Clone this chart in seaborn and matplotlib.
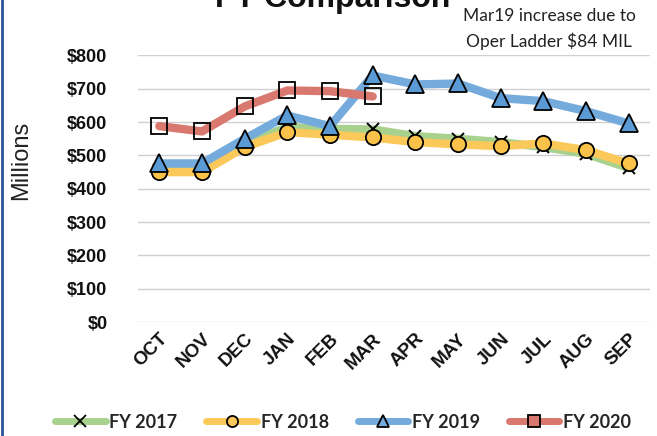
import matplotlib
matplotlib.use("Agg")
import matplotlib.pyplot as plt
import matplotlib.transforms as mtransforms
import seaborn as sns
import pandas as pd
from matplotlib.lines import Line2D

months = ["OCT", "NOV", "DEC", "JAN", "FEB", "MAR", "APR", "MAY", "JUN", "JUL", "AUG", "SEP"]
fy2017 = [455, 452, 535, 585, 580, 578, 558, 550, 540, 525, 505, 462]
fy2018 = [450, 450, 525, 570, 562, 554, 540, 533, 528, 536, 516, 476]
fy2019 = [476, 476, 550, 620, 588, 740, 713, 716, 672, 663, 633, 596]
fy2020 = [588, 572, 647, 695, 693, 677]
yticks = [0, 100, 200, 300, 400, 500, 600, 700, 800]
ytick_labels = ["$0", "$100", "$200", "$300", "$400", "$500", "$600", "$700", "$800"]
series_names = ["FY 2017", "FY 2018", "FY 2019", "FY 2020"]

sns.set_theme(style="white")
plt.rcParams['font.family'] = ['Liberation Sans', 'DejaVu Sans']

fig = plt.figure(figsize=(6.57, 4.36), dpi=100)
ax = fig.add_axes([138/657, 1-322/436, (650-138)/657, (322-55.5)/436])

styles = [
    dict(color="#a9d18e", marker="x", mec="black", mfc="black", ms=9, mew=1.4),
    dict(color="#fbc85a", marker="o", mec="black", mfc="#fbc24a", ms=11, mew=1.3),
    dict(color="#74aadc", marker="^", mec="black", mfc="#5b9bd5", ms=12.5, mew=1.3),
    dict(color="#d9786e", marker="s", mec="black", mfc="none", ms=11, mew=1.3),
]
data = [fy2017, fy2018, fy2019, fy2020]
for name, vals, st in zip(series_names, data, styles):
    df = pd.DataFrame({"month": months[:len(vals)], "value": vals})
    sns.lineplot(data=df, x="month", y="value", ax=ax, sort=False, lw=6,
                 legend=False, **st)

ax.set_xlim(-0.5, 11.5)
ax.set_ylim(0, 800)
ax.set_yticks(yticks)
ax.set_yticklabels(ytick_labels, fontsize=13, fontweight="bold", color="#111111")
ax.set_xticks(range(len(months)))
ax.set_xticklabels(months, rotation=45, ha="right", rotation_mode="anchor",
                   fontsize=13.5, fontweight="bold", color="#111111")
offset = mtransforms.ScaledTranslation(-8/100, -2/100, fig.dpi_scale_trans)
for lbl in ax.get_xticklabels():
    lbl.set_transform(lbl.get_transform() + offset)
ax.tick_params(axis="both", length=0)
ax.tick_params(axis="y", pad=22)
ax.tick_params(axis="x", pad=6)
ax.set_xlabel("")
ax.set_ylabel("")
for s in ax.spines.values():
    s.set_visible(False)
ax.yaxis.grid(True, color="#d0d0d0", lw=1)
ax.set_axisbelow(True)

fig.text(21/657, 1-160/436, "Millions", rotation=90, ha="center", va="center",
         fontsize=17, color="#222222")

fig.text(333/657, 1-7/436, "FY Comparison", ha="center", va="baseline",
         fontsize=23, fontweight="bold", color="#111111")

fig.text(549/657, 1-29/436, "Mar19 increase due to\nOper Ladder $84 MIL", ha="center",
         va="center", fontsize=12.5, family=["Lato", "DejaVu Sans"], color="#222222",
         linespacing=1.55)

handles = [Line2D([], [], lw=5, color=st["color"], marker=st["marker"], mec="black",
                  mfc=(st["color"] if st["marker"] != "x" else "black"), ms=8, mew=1.3)
           for st in styles]
fig.legend(handles, series_names, loc="center", bbox_to_anchor=(343/657, 1-422/436),
           ncol=4, frameon=False, handlelength=2.8, columnspacing=1.6, handletextpad=0.2,
           prop={"family": "Lato", "weight": "bold", "size": 13})

fig.add_artist(Line2D([2/657, 2/657], [0, 1], transform=fig.transFigure,
                      color="#2f5496", lw=2))

fig.savefig("out.png", dpi=100)
